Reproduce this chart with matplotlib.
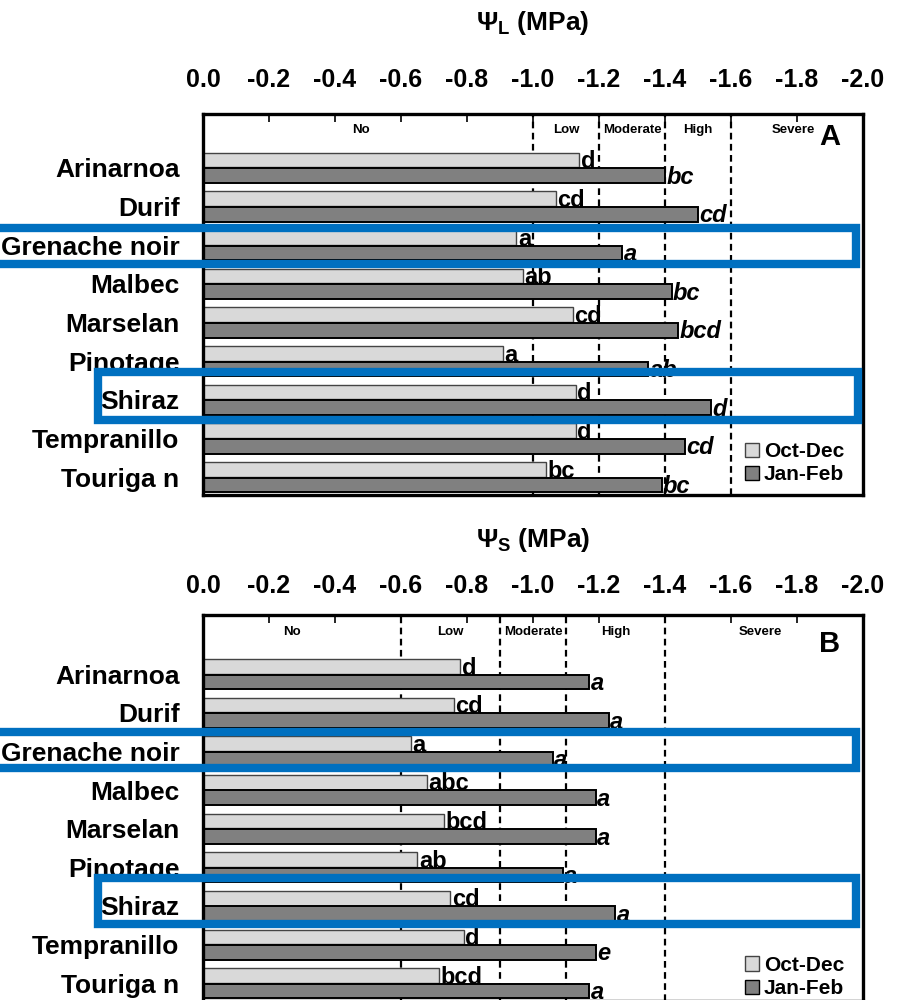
import matplotlib
matplotlib.use('Agg')
import matplotlib.pyplot as plt
import numpy as np
from matplotlib.patches import Rectangle, Patch
from matplotlib.transforms import blended_transform_factory

plt.rcParams['font.family'] = ['Liberation Sans', 'DejaVu Sans']
plt.rcParams['font.weight'] = 'bold'
plt.rcParams['mathtext.fontset'] = 'custom'
plt.rcParams['mathtext.rm'] = 'Liberation Sans:bold'
plt.rcParams['mathtext.bf'] = 'Liberation Sans:bold'
plt.rcParams['mathtext.it'] = 'Liberation Sans:bold:italic'

cultivars = ['Arinarnoa', 'Durif', 'Grenache noir', 'Malbec', 'Marselan',
             'Pinotage', 'Shiraz', 'Tempranillo', 'Touriga n']

# leaf water potential (panel A)
leaf_oct = [-1.14, -1.07, -0.95, -0.97, -1.12, -0.91, -1.13, -1.13, -1.04]
leaf_jan = [-1.40, -1.50, -1.27, -1.42, -1.44, -1.35, -1.54, -1.46, -1.39]
leaf_oct_let = ['d', 'cd', 'a', 'ab', 'cd', 'a', 'd', 'd', 'bc']
leaf_jan_let = ['bc', 'cd', 'a', 'bc', 'bcd', 'ab', 'd', 'cd', 'bc']
leaf_limits = [-1.0, -1.2, -1.4, -1.6]
leaf_zones = ['No', 'Low', 'Moderate', 'High', 'Severe']
leaf_zone_x = [-0.48, -1.1, -1.3, -1.5, -1.79]

# stem water potential (panel B)
stem_oct = [-0.78, -0.76, -0.63, -0.68, -0.73, -0.65, -0.75, -0.79, -0.715]
stem_jan = [-1.17, -1.23, -1.06, -1.19, -1.19, -1.09, -1.25, -1.19, -1.17]
stem_oct_let = ['d', 'cd', 'a', 'abc', 'bcd', 'ab', 'cd', 'd', 'bcd']
stem_jan_let = ['a', 'a', 'a', 'a', 'a', 'a', 'a', 'e', 'a']
stem_limits = [-0.6, -0.9, -1.1, -1.4]
stem_zones = ['No', 'Low', 'Moderate', 'High', 'Severe']
stem_zone_x = [-0.27, -0.75, -1.0, -1.25, -1.69]

xticks = np.round(np.arange(0, -2.01, -0.2), 1)

W, H = 904, 1000
fig = plt.figure(figsize=(W / 100, H / 100), dpi=100)

light = '#d9d9d9'
dark = '#808080'


def panel(top, bottom, ytop, title, title_y, oct_v, jan_v, oct_l, jan_l,
          limits, zones, zone_x, zone_y, letter, letter_y, pad):
    ax = fig.add_axes([203 / W, 1 - bottom / H, 660 / W, (bottom - top) / H])
    y = np.arange(len(cultivars))
    h = 0.38
    ax.barh(y - 0.2, oct_v, height=h, color=light, edgecolor='#444444', linewidth=1.0)
    ax.barh(y + 0.2, jan_v, height=h, color=dark, edgecolor='black', linewidth=1.4)
    for i in range(len(cultivars)):
        ax.text(oct_v[i] - 0.004, y[i] - 0.2 + h / 2 + 0.02, oct_l[i], fontsize=17,
                ha='left', va='baseline')
        ax.text(jan_v[i] - 0.004, y[i] + 0.2 + h / 2 + 0.02, jan_l[i], fontsize=17,
                ha='left', va='baseline', style='italic')
    for v in limits:
        ax.axvline(v, color='black', linestyle=(0, (3, 2)), linewidth=1.6, zorder=0.5)
    tr = blended_transform_factory(ax.transData, ax.transAxes)
    for z, zx in zip(zones, zone_x):
        ax.text(zx, zone_y, z, transform=tr, ha='center', va='center', fontsize=9.5)
    ax.text(-1.9, letter_y, letter, transform=tr, ha='center', va='center', fontsize=21)
    ax.set_xlim(0, -2.0)
    ax.set_ylim(8.46, ytop)
    ax.set_yticks(y)
    ax.set_yticklabels(cultivars, fontsize=19)
    ax.set_xticks(xticks)
    ax.set_xticklabels([f'{v:.1f}' if v != 0 else '0.0' for v in xticks], fontsize=18)
    ax.xaxis.tick_top()
    ax.tick_params(axis='x', direction='in', length=6, width=1.2, pad=pad, top=True, bottom=False)
    ax.tick_params(axis='y', length=0, pad=17)
    for s in ax.spines.values():
        s.set_linewidth(2.4)
    fig.text(533 / W, 1 - title_y / H, title, ha='center', va='center', fontsize=19)
    return ax


axA = panel(114, 495, -1.39, r'$\Psi_\mathrm{L}$ (MPa)', 23, leaf_oct, leaf_jan,
            leaf_oct_let, leaf_jan_let, leaf_limits, leaf_zones, leaf_zone_x,
            1 - 16 / 381, 'A', 1 - 23 / 381, 16)
axB = panel(615, 1001, -1.53, r'$\Psi_\mathrm{S}$ (MPa)', 540, stem_oct, stem_jan,
            stem_oct_let, stem_jan_let, stem_limits, stem_zones, stem_zone_x,
            1 - 17 / 386, 'B', 1 - 29 / 386, 12)

for ax, yb in [(axA, -0.005), (axB, -0.025)]:
    handles = [Patch(facecolor=light, edgecolor='#444444', label='Oct-Dec'),
               Patch(facecolor=dark, edgecolor='black', label='Jan-Feb')]
    ax.legend(handles=handles, loc='lower right', bbox_to_anchor=(0.99, yb),
              frameon=False, fontsize=15, handlelength=0.7, handleheight=0.7,
              handletextpad=0.2, labelspacing=0.2, borderaxespad=0.2)

# blue highlight boxes
boxes = [(-10, 228, 856, 264), (98, 372, 858, 420),
         (-10, 732, 856, 768), (98, 878, 856, 924)]
for x0, y0, x1, y1 in boxes:
    fig.patches.append(Rectangle((x0 / W, 1 - y1 / H), (x1 - x0) / W, (y1 - y0) / H,
                                 transform=fig.transFigure, fill=False,
                                 edgecolor='#0070c0', linewidth=6, zorder=10))

fig.savefig('out.png', dpi=100)
